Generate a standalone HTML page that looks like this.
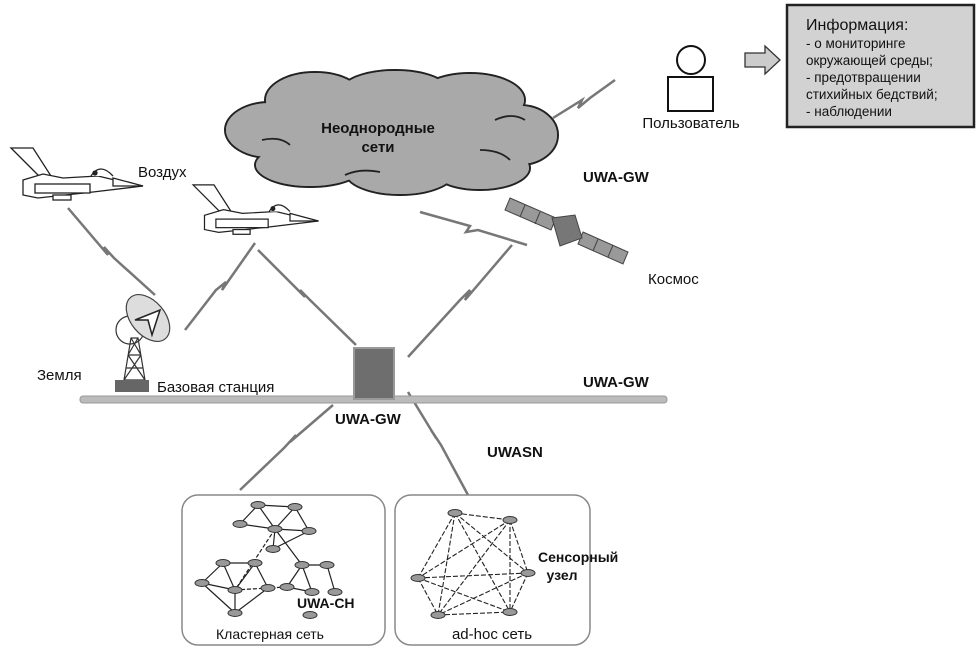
<!DOCTYPE html>
<html><head><meta charset="utf-8"><style>
body{margin:0;background:#fff}
svg{display:block}
text{font-family:"Liberation Sans",sans-serif;fill:#111}
.b{font-weight:bold}
</style></head><body>
<svg width="979" height="652" viewBox="0 0 979 652" xmlns="http://www.w3.org/2000/svg">
<defs>
<g id="plane" fill="#fff" stroke="#222" stroke-width="1.3">
<path d="M8,8 L30,8 L48,36 L38,38 Z"/>
<path d="M20,40 L20,55 L35,58 L90,52 L140,46 L120,42 L95,36 L60,38 L40,34 Z"/>
<path d="M88,36 Q97,22 110,36" />
<circle cx="92" cy="33" r="2" fill="#222"/>
<path d="M110,38 L140,46 L110,46 Z"/>
<rect x="32" y="44" width="55" height="9"/>
<rect x="50" y="55" width="18" height="5"/>
</g>
<g id="node"><ellipse cx="0" cy="0" rx="7" ry="3.5" fill="#999" stroke="#333" stroke-width="1"/></g>
</defs>

<!-- lightning lines -->
<g stroke="#777" stroke-width="2.5" fill="none">
<polyline points="68,208 108,255 104,247 114,258 155,295"/>
<polyline points="255,243 222,290 226,282 216,290 185,330"/>
<polyline points="258,250 305,297 300,290 310,300 356,345"/>
<polyline points="512,245 465,300 470,290 460,300 408,357"/>
<polyline points="420,212 470,226 466,232 478,230 527,245"/>
<polyline points="553,118 582,100 578,108 590,98 615,80"/>
<polyline points="333,405 290,442 296,435 284,448 240,490"/>
<polyline points="408,392 436,438 431,430 441,445 468,495"/>
</g>

<!-- cloud -->
<g stroke="#222" stroke-width="2" fill="#a9a9a9">
<ellipse cx="270" cy="130" rx="45" ry="28"/>
<ellipse cx="315" cy="100" rx="50" ry="28"/>
<ellipse cx="395" cy="92" rx="55" ry="22"/>
<ellipse cx="470" cy="100" rx="55" ry="27"/>
<ellipse cx="520" cy="135" rx="38" ry="30"/>
<ellipse cx="480" cy="168" rx="50" ry="22"/>
<ellipse cx="400" cy="172" rx="55" ry="23"/>
<ellipse cx="310" cy="165" rx="55" ry="22"/>
</g>
<g fill="#a9a9a9">
<ellipse cx="270" cy="130" rx="44" ry="27"/>
<ellipse cx="315" cy="100" rx="49" ry="27"/>
<ellipse cx="395" cy="92" rx="54" ry="21"/>
<ellipse cx="470" cy="100" rx="54" ry="26"/>
<ellipse cx="520" cy="135" rx="37" ry="29"/>
<ellipse cx="480" cy="168" rx="49" ry="21"/>
<ellipse cx="400" cy="172" rx="54" ry="22"/>
<ellipse cx="310" cy="165" rx="54" ry="21"/>
<rect x="280" y="100" width="240" height="70"/>
</g>
<g stroke="#222" stroke-width="1.8" fill="none">
<path d="M262,140 Q280,136 290,145"/>
<path d="M480,150 Q500,150 510,160"/>
<path d="M495,120 Q512,112 525,120"/>
<path d="M345,175 Q360,168 380,172"/>
</g>
<text x="378" y="133" class="b" font-size="15" text-anchor="middle">Неоднородные</text>
<text x="378" y="152" class="b" font-size="15" text-anchor="middle">сети</text>

<!-- planes -->
<use href="#plane" x="3" y="140"/>
<use href="#plane" x="185" y="177" transform="translate(195,183) scale(0.95) translate(-195,-183)"/>
<text x="138" y="177" font-size="15">Воздух</text>

<!-- user -->
<circle cx="691" cy="60" r="14" fill="#fff" stroke="#111" stroke-width="2"/>
<rect x="668" y="77" width="45" height="34" fill="#fff" stroke="#111" stroke-width="2"/>
<text x="691" y="128" font-size="15" text-anchor="middle">Пользователь</text>
<path d="M745,53 L765,53 L765,46 L780,60 L765,74 L765,67 L745,67 Z" fill="#ccc" stroke="#333" stroke-width="1.3"/>
<rect x="787" y="5" width="187" height="122" fill="#d2d2d2" stroke="#222" stroke-width="2.5"/>
<text x="806" y="30" font-size="16">Информация:</text>
<g font-size="13.5"><text x="806" y="48">- о мониторинге</text><text x="806" y="65">окружающей среды;</text><text x="806" y="82">- предотвращении</text><text x="806" y="99">стихийных бедствий;</text><text x="806" y="116">- наблюдении</text></g>

<!-- satellite -->
<g stroke="#444" stroke-width="1">
<path d="M510,198 L556,218 L551,230 L505,210 Z" fill="#999"/>
<path d="M583,232 L628,252 L623,264 L578,244 Z" fill="#999"/>
<path d="M525,205 L520,217 M540,212 L535,224 M598,239 L593,251 M613,245 L608,257" />
<path d="M552,218 L575,215 L582,238 L560,246 Z" fill="#777"/>
</g>
<text x="648" y="284" font-size="15">Космос</text>
<text x="583" y="182" class="b" font-size="15">UWA-GW</text>

<!-- ground antenna -->
<g stroke="#333" stroke-width="1.2" fill="none">
<path d="M124,380 L131,338 L138,338 L145,380 Z M126,368 L143,368 M128,355 L141,355 M124,380 L141,355 M145,380 L128,355 M128,355 L138,338 M141,355 L131,338"/>
<circle cx="130" cy="330" r="14"/>
</g>
<ellipse cx="148" cy="318" rx="27" ry="17" transform="rotate(50 148 318)" fill="#ddd" stroke="#444" stroke-width="1.2"/>
<path d="M135,320 L160,310 L152,335 L148,320 Z" fill="#fff" stroke="#222" stroke-width="1.5"/>
<rect x="115" y="380" width="34" height="12" fill="#666"/>
<text x="37" y="380" font-size="15">Земля</text>
<text x="157" y="392" font-size="15">Базовая станция</text>

<!-- base line -->
<rect x="80" y="396" width="587" height="7" rx="3" fill="#bbb" stroke="#999" stroke-width="1"/>
<rect x="354" y="348" width="40" height="51" fill="#6e6e6e" stroke="#999" stroke-width="2"/>
<text x="583" y="387" class="b" font-size="15">UWA-GW</text>
<text x="335" y="424" class="b" font-size="15">UWA-GW</text>
<text x="487" y="457" class="b" font-size="15">UWASN</text>

<!-- boxes -->
<rect x="182" y="495" width="203" height="150" rx="16" fill="#fff" stroke="#888" stroke-width="1.5"/>
<rect x="395" y="495" width="195" height="150" rx="16" fill="#fff" stroke="#888" stroke-width="1.5"/>

<g stroke="#222" stroke-width="1.2">
<path d="M258,505 L295,507 M258,505 L240,524 M258,505 L275,529 M295,507 L275,529 M295,507 L309,531 M240,524 L275,529 M275,529 L309,531 M275,529 L273,549 M309,531 L273,549 M223,563 L255,563 M223,563 L202,583 M223,563 L235,590 M255,563 L235,590 M202,583 L235,590 M202,583 L235,613 M235,590 L235,613 M255,563 L268,588 M235,613 L268,588 M302,565 L327,565 M302,565 L287,587 M302,565 L312,592 M327,565 L335,592 M287,587 L312,592 M275,529 L302,565"/>
<path d="M275,529 L235,590 M235,590 L268,588 L287,587" stroke-dasharray="4,2"/>
</g>
<g stroke="#222" stroke-width="1.1" stroke-dasharray="5,2">
<path d="M455,513 L510,520 M455,513 L418,578 M455,513 L528,573 M455,513 L438,615 M455,513 L510,612 M510,520 L418,578 M510,520 L528,573 M510,520 L438,615 M510,520 L510,612 M418,578 L528,573 M418,578 L438,615 M418,578 L510,612 M528,573 L438,615 M528,573 L510,612 M438,615 L510,612"/>
</g>
<g>
<use href="#node" x="258" y="505"/><use href="#node" x="295" y="507"/><use href="#node" x="240" y="524"/><use href="#node" x="275" y="529"/><use href="#node" x="309" y="531"/><use href="#node" x="273" y="549"/><use href="#node" x="223" y="563"/><use href="#node" x="255" y="563"/><use href="#node" x="302" y="565"/><use href="#node" x="327" y="565"/><use href="#node" x="202" y="583"/><use href="#node" x="235" y="590"/><use href="#node" x="268" y="588"/><use href="#node" x="287" y="587"/><use href="#node" x="312" y="592"/><use href="#node" x="335" y="592"/><use href="#node" x="235" y="613"/><use href="#node" x="310" y="615"/>
<use href="#node" x="455" y="513"/><use href="#node" x="510" y="520"/><use href="#node" x="418" y="578"/><use href="#node" x="528" y="573"/><use href="#node" x="438" y="615"/><use href="#node" x="510" y="612"/>
</g>
<text x="297" y="608" class="b" font-size="14">UWA-CH</text>
<text x="270" y="639" font-size="14" text-anchor="middle">Кластерная сеть</text>
<text x="492" y="639" font-size="15" text-anchor="middle">ad-hoc сеть</text>
<text x="538" y="562" class="b" font-size="14">Сенсорный</text>
<text x="562" y="580" class="b" font-size="14" text-anchor="middle">узел</text>
</svg>
</body></html>
